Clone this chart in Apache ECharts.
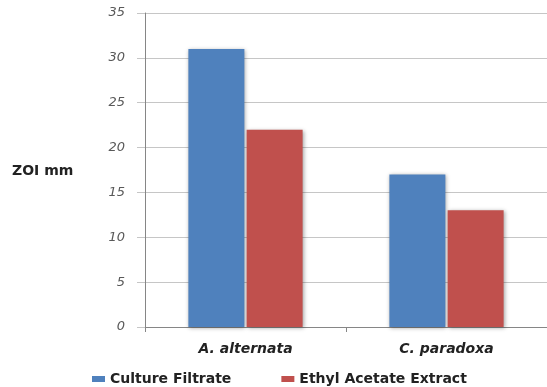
<!DOCTYPE html>
<html>
<head>
<meta charset="utf-8">
<script src="https://cdn.jsdelivr.net/npm/echarts@6/dist/echarts.min.js"></script>
<style>
  html, body { margin: 0; padding: 0; background: #fff; }
  #chart { width: 547px; height: 387px; }
</style>
</head>
<body>
<div id="chart"></div>
<script>
// Zone of inhibition by organism and preparation
const categories = ['A. alternata', 'C. paradoxa'];
const cultureFiltrate = [31, 17];
const ethylAcetateExtract = [22, 13];
const yTicks = { min: 0, max: 35, step: 5 };

const barShadow = {
  shadowColor: 'rgba(0,0,0,0.35)',
  shadowBlur: 4,
  shadowOffsetX: 1,
  shadowOffsetY: 1
};

const chart = echarts.init(document.getElementById('chart'));
chart.setOption({
  animation: false,
  backgroundColor: '#ffffff',
  // plot area runs slightly past the right edge of the canvas
  grid: { left: 145, width: 406, top: 13, bottom: 60, containLabel: false },
  legend: {
    left: 92,
    top: 372,
    padding: 0,
    itemWidth: 13,
    itemHeight: 6,
    itemGap: 50,
    icon: 'rect',
    textStyle: { fontFamily: 'DejaVu Sans', fontWeight: 'bold', fontSize: 14, color: '#222' },
    data: ['Culture Filtrate', 'Ethyl Acetate Extract']
  },
  graphic: [{
    type: 'text',
    left: 12,
    top: 164,
    style: { text: 'ZOI mm', font: 'bold 14px "DejaVu Sans"', fill: '#222' }
  }],
  xAxis: {
    type: 'category',
    data: categories,
    axisLine: { lineStyle: { color: '#868686' } },
    axisTick: { show: true, length: 5, lineStyle: { color: '#868686' } },
    axisLabel: {
      margin: 15,
      fontFamily: 'DejaVu Sans',
      fontStyle: 'italic',
      fontWeight: 'bold',
      fontSize: 14,
      color: '#222'
    },
    splitLine: { show: false }
  },
  yAxis: {
    type: 'value',
    min: yTicks.min,
    max: yTicks.max,
    interval: yTicks.step,
    axisLine: { show: true, lineStyle: { color: '#868686' } },
    axisTick: { show: true, length: 8, lineStyle: { color: '#c6c6c6' } },
    axisLabel: {
      margin: 20,
      fontFamily: 'DejaVu Sans',
      fontStyle: 'italic',
      fontSize: 13,
      color: '#595959'
    },
    splitLine: { show: true, lineStyle: { color: '#c6c6c6', width: 1 } }
  },
  series: [
    {
      name: 'Culture Filtrate',
      type: 'bar',
      data: cultureFiltrate,
      barWidth: 56,
      barGap: '4%',
      itemStyle: Object.assign({ color: '#4f81bd' }, barShadow)
    },
    {
      name: 'Ethyl Acetate Extract',
      type: 'bar',
      data: ethylAcetateExtract,
      barWidth: 56,
      barGap: '4%',
      itemStyle: Object.assign({ color: '#c0504d' }, barShadow)
    }
  ]
});
</script>
</body>
</html>
